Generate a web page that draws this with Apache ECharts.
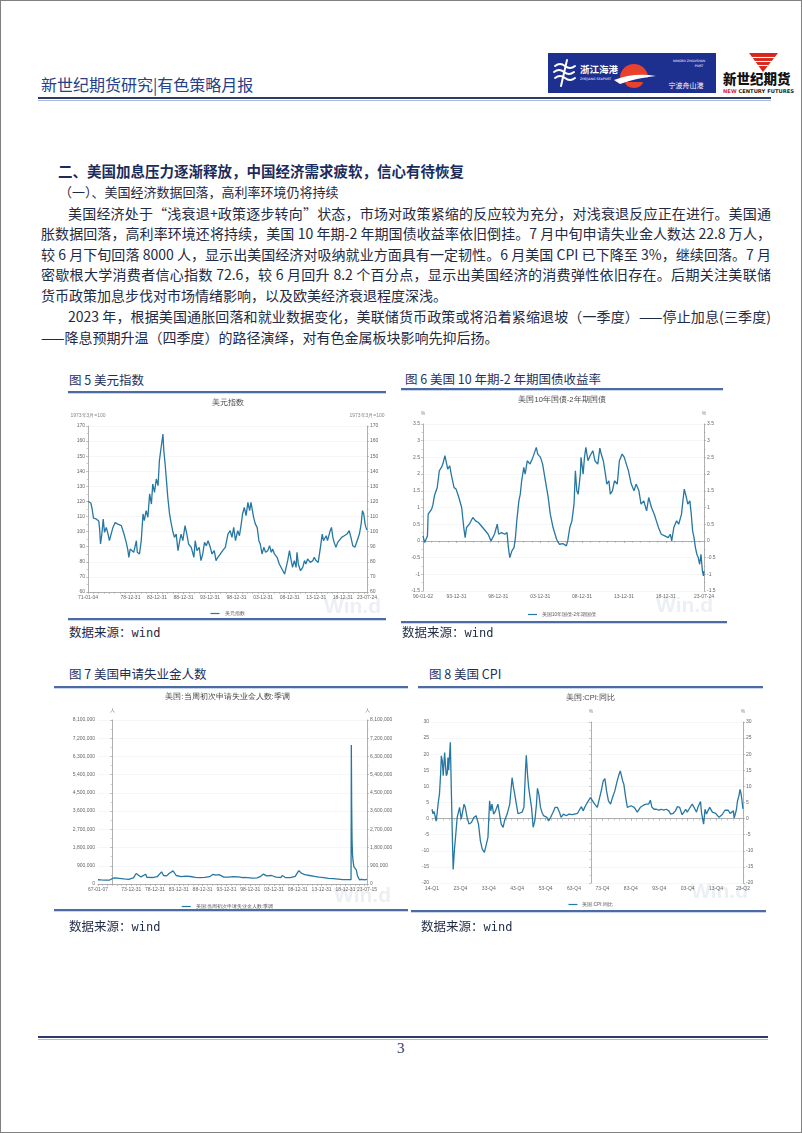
<!DOCTYPE html>
<html>
<head>
<meta charset="utf-8">
<title>新世纪期货研究|有色策略月报</title>
<script src="https://cdn.jsdelivr.net/npm/echarts@6.0.0/dist/echarts.min.js"></script>
<style>
html, body { margin: 0; padding: 0; background: #fff; }
#page { position: relative; width: 802px; height: 1133px; box-sizing: border-box; border: 1px solid #808080;
        overflow: hidden; background: #fff; font-family: "Noto Sans CJK SC", sans-serif; color: #1e2b4d; }
.t { position: absolute; white-space: nowrap; }
.bl { position: absolute; height: 20px; line-height: 20px; font-size: 14px; white-space: nowrap;
      text-align: justify; text-align-last: justify; color: #1f2a44; }
.bl.last { text-align: left; text-align-last: left; }
.rule { position: absolute; height: 1.5px; background: #4d6ba3; box-shadow: 0 1px 0 #c9d5ea; }
.figt { position: absolute; white-space: nowrap; font-size: 12.5px; color: #1f2f5c; }
.src { position: absolute; white-space: nowrap; font-size: 12.5px; color: #1f2a44; }
.src span { font-family: "DejaVu Sans Mono", monospace; font-size: 12px; }
.chart { position: absolute; }
</style>
</head>
<body>
<div id="page">
  <div class="t" style="left:40px;top:71px;font-size:16px;color:#24408a;">新世纪期货研究|有色策略月报</div>
  <svg class="t" style="left:545px;top:50px" width="255" height="46" viewBox="0 0 255 46">
    <rect x="2" y="2" width="168" height="40" fill="#1d2f8f"/>
    <g stroke="#fff" stroke-width="2" fill="none" stroke-linecap="round">
      <path d="M9 15 q5 -4 10 0 t10 0"/>
      <path d="M8 21 q5 -4 10 0 t10 0"/>
      <path d="M9 27 q5 -4 10 0 t10 0"/>
      <path d="M21 9 L15 35"/>
    </g>
    <text x="34" y="22" fill="#fff" font-size="9.5" font-weight="700" font-family="Noto Sans CJK SC">浙江海港</text>
    <text x="34" y="29" fill="#fff" font-size="3.2" font-family="DejaVu Sans">ZHEJIANG SEAPORT</text>
    <path d="M74 27 A14 14 0 0 1 102 27 Z" fill="#e8412c"/>
    <path d="M68 29 Q88 21 110 25 Q90 27 74 33 Z" fill="#fff"/>
    <path d="M79 31 A9 6 0 0 0 97 31 Z" fill="#e8412c"/>
    <text x="143" y="11" fill="#fff" font-size="3.2" text-anchor="middle" font-family="DejaVu Sans">NINGBO ZHOUSHAN</text>
    <text x="153" y="16" fill="#fff" font-size="3.2" text-anchor="middle" font-family="DejaVu Sans">PORT</text>
    <text x="140" y="37" fill="#fff" font-size="7" text-anchor="middle" font-family="Noto Sans CJK SC">宁波舟山港</text>
    <path d="M203 2 L232 2 L217 21 Z" fill="#d9261c"/>
    <g stroke="#fff" stroke-width="1.1">
      <path d="M206 6.5 L229 6.5"/><path d="M209 10.5 L226 10.5"/><path d="M212 14.5 L222 14.5"/>
    </g>
    <text x="177" y="33" font-size="13.5" font-weight="900" fill="#111" font-family="Noto Sans CJK SC">新世纪期货</text>
    <text x="177" y="42" font-size="5.2" font-weight="700" fill="#222" font-family="DejaVu Sans"><tspan fill="#d9261c">NEW</tspan> CENTURY FUTURES</text>
  </svg>
  <div style="position:absolute;left:37px;top:96px;width:733px;height:2px;background:#2d3b68;"></div>
  <div style="position:absolute;left:37px;top:98.5px;width:733px;height:1px;background:#a9badb;"></div>

  <div class="t" style="left:57px;top:159px;font-size:14.5px;font-weight:700;color:#1b2c5c;">二、美国加息压力逐渐释放，中国经济需求疲软，信心有待恢复</div>
  <div class="t" style="left:58px;top:181px;font-size:13px;color:#1f2a44;">（一）、美国经济数据回落，高利率环境仍将持续</div>
  <div class="bl" style="left:67px;top:202px;width:703px;">美国经济处于“浅衰退+政策逐步转向”状态，市场对政策紧缩的反应较为充分，对浅衰退反应正在进行。美国通</div>
  <div class="bl" style="left:40px;top:222px;width:730px;">胀数据回落，高利率环境还将持续，美国 10 年期-2 年期国债收益率依旧倒挂。7 月中旬申请失业金人数达 22.8 万人，</div>
  <div class="bl" style="left:40px;top:243px;width:730px;">较 6 月下旬回落 8000 人，显示出美国经济对吸纳就业方面具有一定韧性。6 月美国 CPI 已下降至 3%，继续回落。7 月</div>
  <div class="bl" style="left:40px;top:263px;width:730px;">密歇根大学消费者信心指数 72.6，较 6 月回升 8.2 个百分点，显示出美国经济的消费弹性依旧存在。后期关注美联储</div>
  <div class="bl last" style="left:40px;top:284px;">货币政策加息步伐对市场情绪影响，以及欧美经济衰退程度深浅。</div>
  <div class="bl" style="left:67px;top:305px;width:703px;">2023 年，根据美国通胀回落和就业数据变化，美联储货币政策或将沿着紧缩退坡（一季度）——停止加息(三季度)</div>
  <div class="bl last" style="left:40px;top:326px;">——降息预期升温（四季度）的路径演绎，对有色金属板块影响先抑后扬。</div>

  <div class="figt" style="left:68px;top:369px;">图 5 美元指数</div>
  <div class="rule" style="left:67px;top:390px;width:318px;"></div>
  <div id="c5" class="chart" style="left:53px;top:393px;width:347px;height:224px;"></div>
  <div class="rule" style="left:67px;top:617px;width:318px;"></div>
  <div class="src" style="left:68px;top:621px;">数据来源：<span>wind</span></div>

  <div class="figt" style="left:404px;top:368px;">图 6 美国 10 年期-2 年期国债收益率</div>
  <div class="rule" style="left:400px;top:387px;width:322px;"></div>
  <div id="c6" class="chart" style="left:400px;top:390px;width:322px;height:231px;"></div>
  <div class="rule" style="left:400px;top:620px;width:326px;"></div>
  <div class="src" style="left:401px;top:621px;">数据来源：<span>wind</span></div>

  <div class="figt" style="left:68px;top:663px;">图 7 美国申请失业金人数</div>
  <div class="rule" style="left:53px;top:685px;width:354px;"></div>
  <div id="c7" class="chart" style="left:53px;top:688px;width:347px;height:221px;"></div>
  <div class="rule" style="left:53px;top:908px;width:354px;"></div>
  <div class="src" style="left:68px;top:915px;">数据来源：<span>wind</span></div>

  <div class="figt" style="left:428px;top:663px;">图 8 美国 CPI</div>
  <div class="rule" style="left:417px;top:685px;width:345px;"></div>
  <div id="c8" class="chart" style="left:417px;top:688px;width:345px;height:222px;"></div>
  <div class="rule" style="left:410px;top:909px;width:355px;"></div>
  <div class="src" style="left:420px;top:915px;">数据来源：<span>wind</span></div>

  <div style="position:absolute;left:37px;top:1035px;width:730px;height:2px;background:#2d3b68;"></div>
  <div style="position:absolute;left:37px;top:1037.5px;width:730px;height:1px;background:#a9badb;"></div>
  <div class="t" style="left:396px;top:1039px;font-size:15px;font-family:'Liberation Serif',serif;color:#2b3a67;">3</div>
</div>

<script>
// 美元指数 (1973年3月=100)
var dxyDates = [
    '1971-01-04','1971-07','1971-10','1972-01','1972-07','1972-11','1973-01','1973-03','1973-05','1973-08',
    '1973-11','1974-02','1974-06','1974-10','1975-01','1975-05','1975-09','1976-02','1976-08','1977-04',
    '1977-10','1978-03','1978-07','1978-09','1978-12','1979-04','1979-08','1980-02','1980-04','1980-09',
    '1981-01','1981-05','1981-08','1981-12','1982-04','1982-08','1982-12','1983-03','1983-07','1983-11',
    '1984-03','1984-06','1984-10','1985-02','1985-04','1985-07','1985-10','1986-01','1986-05','1986-09',
    '1986-12','1987-04','1987-08','1987-12','1988-04','1988-07','1988-11','1989-04','1989-08','1989-12',
    '1990-06','1990-12','1991-03','1991-07','1991-12','1992-04','1992-08','1992-12','1993-04','1993-08',
    '1994-01','1994-05','1994-10','1995-02','1995-06','1995-12','1996-05','1996-11','1997-05','1997-10',
    '1998-02','1998-06','1998-10','1999-03','1999-07','1999-11','2000-02','2000-06','2000-10','2001-02',
    '2001-06','2001-09','2001-12','2002-03','2002-07','2002-11','2003-03','2003-06','2003-10','2004-02',
    '2004-06','2004-11','2005-03','2005-07','2005-10','2006-02','2006-08','2007-01','2007-07','2008-01',
    '2008-04','2008-08','2008-12','2009-04','2009-07','2009-11','2010-03','2010-05','2010-08','2011-01',
    '2011-06','2011-10','2012-01','2012-05','2012-11','2013-05','2013-08','2013-12','2014-05','2014-10',
    '2015-02','2015-05','2015-11','2016-02','2016-08','2016-11','2017-02','2017-05','2017-09','2018-01',
    '2018-05','2018-10','2019-04','2019-10','2020-03','2020-07','2020-11','2021-04','2021-09','2022-02',
    '2022-06','2022-09','2022-12','2023-03','2023-05','2023-07-24'
];
var dxyValues = [
    120.1, 119, 115, 109, 108.4, 109.5, 107, 101.7, 91.8, 98.4,
    108.4, 99.5, 102.8, 98.4, 94, 98.4, 102.8, 106, 105, 104,
    98.4, 93, 87.4, 83, 88.5, 89.6, 86.3, 94, 86.3, 85.2,
    94, 111.7, 107.3, 113.9, 109.5, 125, 118.3, 131.6, 126, 134.9,
    130.5, 147, 155.9, 164.7, 153.7, 144.8, 133.8, 122.7, 111.7, 105,
    100.6, 96.2, 98.4, 87.4, 94, 98.4, 94, 104, 98.4, 91.8,
    89.6, 83, 94, 87.4, 89.6, 80.8, 85.2, 92.9, 90.7, 94,
    89.6, 85.2, 87.4, 80.8, 83, 85.2, 87.4, 89.6, 98.4, 100.6,
    96.2, 102.8, 94, 100.6, 97.3, 105, 111.7, 116.1, 110.6, 119.4,
    113.9, 119.4, 118.3, 109.5, 105, 102.8, 94, 91.8, 85.2, 89.6,
    86.3, 87.4, 90.7, 86.3, 88.5, 85.2, 83, 78.6, 75.2, 71.9,
    71.9, 80.8, 87.4, 80.8, 76.3, 80.8, 76.3, 86.3, 78.6, 74.1,
    76.3, 80.8, 78.6, 81.9, 79.6, 80.8, 83, 80.8, 79.6, 89.6,
    98.4, 94, 97.3, 94, 100.6, 102.8, 96.2, 92.9, 89.6, 92.9,
    94, 96.2, 97.3, 98.4, 100.6, 96.2, 90.7, 89.6, 94, 98.4,
    105, 113.9, 111.7, 105, 102.8, 101
];
var dxyTicks = ['1971-01-04','1978-12-31','1983-12-31','1988-12-31','1993-12-31','1998-12-31',
    '2003-12-31','2008-12-31','2013-12-31','2018-12-31','2023-07-24'];

// 美国10年国债-2年期国债 (%)
var spreadDates = [
    '1990-01-02','1990-03','1990-07','1990-08','1991-01','1991-03','1991-05','1991-09','1991-12','1992-03',
    '1992-05','1992-08','1992-10','1992-12','1993-03','1993-05','1993-09','1993-12','1994-04','1994-08',
    '1994-11','1995-01','1995-03','1995-07','1995-12','1996-04','1996-08','1997-02','1997-10','1998-02',
    '1998-07','1998-11','1999-01','1999-05','1999-10','2000-01','2000-03','2000-05','2000-08','2000-11',
    '2001-01','2001-03','2001-06','2001-08','2001-10','2002-01','2002-03','2002-06','2002-10','2003-02',
    '2003-07','2003-09','2004-01','2004-04','2004-08','2004-12','2005-03','2005-07','2005-12','2006-04',
    '2006-09','2007-02','2007-04','2007-07','2007-10','2008-01','2008-03','2008-05','2008-07','2008-10',
    '2008-11','2009-02','2009-04','2009-06','2009-09','2009-12','2010-04','2010-07','2010-11','2011-02',
    '2011-04','2011-07','2011-10','2011-12','2012-03','2012-05','2012-08','2012-11','2013-03','2013-06',
    '2013-10','2014-01','2014-04','2014-07','2014-11','2015-03','2015-06','2015-10','2016-01','2016-05',
    '2016-09','2016-12','2017-04','2017-08','2017-11','2018-02','2018-06','2018-11','2019-04','2019-07',
    '2019-09','2019-12','2020-04','2020-07','2020-11','2021-01','2021-03','2021-06','2021-08','2021-11',
    '2022-01','2022-03','2022-05','2022-07','2022-09','2022-11','2023-01','2023-03','2023-05','2023-06-30',
    '2023-07-24'
];
var spreadValues = [
    0.15, -0.05, 0.15, 0.8, 0.95, 1.1, 1.35, 1.6, 2.1, 2.2,
    2.3, 2.55, 2.35, 2.15, 2.25, 2.0, 1.6, 1.55, 1.3, 1.0,
    0.4, 0.1, 0.4, 0.5, 0.7, 0.6, 0.55, 0.4, 0.2, 0.0,
    0.2, 0.5, 0.2, 0.25, 0.2, 0.25, -0.2, -0.5, -0.3, -0.2,
    0.1, 0.6, 1.2, 1.4, 1.8, 2.2, 2.0, 2.4, 2.3, 2.5,
    2.8, 2.6, 2.5, 2.3, 1.8, 1.3, 0.8, 0.4, 0.05, -0.1,
    -0.08, -0.15, 0.0, 0.4, 0.6, 1.1, 2.1, 1.5, 1.4, 2.0,
    2.5, 2.0, 2.5, 2.8, 2.4, 2.55, 2.7, 2.4, 2.3, 2.78,
    2.6, 2.4, 2.0, 1.7, 1.8, 1.4, 1.5, 1.8, 1.7, 2.4,
    2.6, 2.5, 2.3, 2.1, 1.7, 1.5, 1.7, 1.5, 1.1, 1.2,
    0.9, 1.3, 1.0, 0.8, 0.6, 0.4, 0.2, 0.15, 0.1, 0.2,
    0.0, 0.4, 0.6, 0.5, 0.8, 1.2, 1.55, 1.3, 1.1, 1.2,
    0.8, 0.3, 0.1, -0.2, -0.4, -0.5, -0.7, -0.4, -0.9, -1.05,
    -0.9
];
var spreadTicks = ['1990-01-02','1993-12-31','1998-12-31','2003-12-31','2008-12-31','2013-12-31',
    '2018-12-31','2023-07-24'];

// 美国:当周初次申请失业金人数:季调 (人)
var claimsDates = [
    '1967-01-07','1967-09','1968-06','1969-06','1970-03','1970-10','1971-06','1972-06','1973-06','1974-06',
    '1975-01','1975-06','1976-01','1976-06','1977-01','1977-04','1978-06','1979-06','1980-05','1980-10',
    '1981-06','1981-12','1982-10','1983-06','1984-06','1985-06','1986-06','1987-06','1988-06','1989-06',
    '1990-06','1991-03','1991-10','1992-06','1993-06','1994-06','1995-06','1996-06','1997-06','1998-06',
    '1999-06','2000-06','2001-03','2001-10','2002-06','2003-06','2004-06','2005-06','2005-09','2006-06',
    '2007-06','2008-06','2009-03','2009-10','2010-06','2011-06','2012-06','2013-06','2014-06','2015-06',
    '2016-06','2017-06','2018-06','2019-06','2020-03-07','2020-03-21','2020-03-28','2020-04-04','2020-04-25','2020-05-23',
    '2020-06-27','2020-08-15','2020-10-17','2021-01-09','2021-04','2021-07','2021-12','2022-06','2023-01','2023-07-15'
];
var claimsValues = [
    210000, 200000, 190000, 195000, 290000, 300000, 280000, 250000, 230000, 300000,
    520000, 450000, 350000, 380000, 480000, 330000, 320000, 360000, 600000, 420000,
    400000, 520000, 650000, 420000, 360000, 390000, 370000, 330000, 310000, 330000,
    360000, 480000, 440000, 460000, 340000, 340000, 360000, 350000, 320000, 310000,
    290000, 300000, 380000, 490000, 400000, 420000, 340000, 320000, 420000, 310000,
    310000, 380000, 660000, 530000, 460000, 420000, 380000, 340000, 310000, 275000,
    265000, 245000, 220000, 215000, 215000, 3300000, 6860000, 6200000, 3850000, 2200000,
    1450000, 1100000, 850000, 900000, 700000, 400000, 210000, 230000, 200000, 230000
];
var claimsTicks = ['1967-01-07','1973-12-31','1978-12-31','1983-12-31','1988-12-31','1993-12-31',
    '1998-12-31','2003-12-31','2008-12-31','2013-12-31','2018-12-31','2023-07-15'];

// 美国:CPI:同比 (%)
var cpiDates = [
    '1914-01-01','1914-05','1914-09','1915-01','1915-06','1915-10','1916-03','1916-08','1917-01','1917-04',
    '1917-08','1917-12','1918-03','1918-06','1918-10','1919-01','1919-05','1919-08','1919-11','1920-03',
    '1920-06','1920-10','1921-03','1921-06','1921-12','1922-04','1922-11','1923-09','1924-04','1925-04',
    '1925-09','1926-05','1927-01','1927-11','1928-10','1929-07','1930-05','1931-01','1931-09','1932-06',
    '1933-01','1933-09','1934-04','1934-09','1935-02','1935-09','1936-05','1937-03','1937-10','1938-05',
    '1939-01','1939-07','1940-06','1941-05','1942-03','1942-09','1943-02','1943-09','1944-04','1944-11',
    '1945-09','1946-05','1946-12','1947-03','1947-08','1948-01','1948-05','1949-01','1949-08','1950-03',
    '1950-10','1951-02','1951-08','1952-03','1952-09','1953-04','1953-11','1954-06','1955-01','1955-10',
    '1956-08','1957-05','1958-02','1958-11','1959-06','1960-04','1961-04','1962-03','1963-04','1964-03',
    '1965-03','1966-01','1966-08','1967-03','1968-01','1969-01','1969-10','1970-06','1971-04','1972-03',
    '1972-11','1973-09','1974-04','1974-11','1975-06','1976-02','1976-11','1977-07','1978-05','1979-03',
    '1979-11','1980-04','1981-02','1981-07','1982-03','1982-10','1983-05','1984-01','1984-07','1985-03',
    '1985-09','1986-04','1986-10','1987-05','1988-01','1988-07','1989-05','1990-04','1990-11','1991-06',
    '1992-03','1993-01','1993-10','1994-10','1995-07','1996-06','1997-05','1998-01','1998-11','1999-09',
    '2000-05','2001-03','2002-01','2002-09','2003-04','2003-11','2004-06','2005-02','2005-08','2006-02',
    '2006-08','2007-02','2007-08','2008-01','2008-07','2008-11','2009-04','2009-08','2010-02','2010-08',
    '2011-02','2011-10','2012-02','2012-09','2013-04','2013-11','2014-06','2015-01','2015-07','2016-02',
    '2016-08','2017-02','2017-09','2018-04','2018-12','2019-07','2020-02','2020-05','2020-10','2021-03',
    '2021-07','2022-01','2022-06','2022-09','2023-01','2023-03','2023-06-30'
];
var cpiValues = [
    2.9, 1.5, 2.2, 1.0, -0.8, 1.5, 5.0, 7.5, 14, 19.5,
    18, 13.3, 17, 20.5, 16, 13.3, 14, 19, 15, 20,
    23.7, 9.6, -6.9, -15.8, -9, -5.8, 0.4, 3.5, -0.2, 4.5,
    3.5, 0.4, -1.7, -1.2, 0.4, 0.9, -1.7, -6.9, -9.5, -10.5,
    -10, -5.8, 5.5, 2.4, 4.5, 1.4, 2.4, 4.5, 1.4, -1.7,
    -2.7, -0.7, 1.4, 4.5, 12.7, 9.6, 7.6, 4.5, 1.5, 2,
    2, 3.5, 15.8, 19.7, 13.8, 9.6, 10.2, 3.5, -2.7, -0.7,
    4.5, 9.4, 7.6, 3.5, 2, 0.9, 0.9, 0.4, -0.7, 0.4,
    2, 3.5, 3.5, 2, 0.4, 1.4, 0.9, 1.4, 1.2, 1.4,
    1.6, 2.9, 3.7, 2.4, 4, 5.5, 6.5, 6.2, 4.5, 3.5,
    4, 9.1, 11.7, 12.4, 8.6, 5.5, 4.5, 6.5, 8.6, 11.7,
    13.8, 14.8, 11.7, 10.7, 6.5, 3.5, 2.9, 4, 4, 3.5,
    3.5, 2, 1.4, 3.5, 4, 4.2, 4.5, 4.5, 5.7, 3.5,
    2.9, 2.9, 2.6, 2.9, 2.6, 2.9, 2.4, 1.4, 1.6, 2.4,
    3.7, 3.5, 1.2, 2, 2.9, 2, 2.9, 3.5, 4.5, 3.7,
    3.5, 2, 3.5, 4, 5.3, 2, -0.2, -1.7, 2.9, 1.4,
    2.4, 3.5, 2.9, 2, 1.4, 1.6, 2, 0.4, 0.2, 1.2,
    0.9, 2.6, 2, 2.6, 1.6, 1.4, 2.4, 0.2, 1.4, 2.9,
    5.4, 7, 9.1, 8.2, 6.4, 5, 3
];
var cpiTicks = ['1914-01-01','1923-12-31','1933-12-31','1943-12-31','1953-12-31','1963-12-31',
    '1973-12-31','1983-12-31','1993-12-31','2003-12-31','2013-12-31','2023-06-30'];

var LINE_COLOR = '#2777a3';
var AXIS_COLOR = '#9c9c9c';
var LABEL_COLOR = '#666';

function toTime(s) {
    var p = s.split('-');
    return new Date(+p[0], +p[1] - 1, p[2] ? +p[2] : 15).getTime();
}
function pad(n) { return (n < 10 ? '0' : '') + n; }
function fmtDay(v) {
    var d = new Date(v);
    return pad(d.getFullYear() % 100) + '-' + pad(d.getMonth() + 1) + '-' + pad(d.getDate());
}
function fmtQuarter(v) {
    var d = new Date(v);
    return pad(d.getFullYear() % 100) + '-Q' + (Math.floor(d.getMonth() / 3) + 1);
}
// small ticks along the date axis, plus the labelled ones
function tickList(labels, from, to, step) {
    var out = labels.map(toTime);
    for (var y = from; y <= to; y += step) {
        out.push(new Date(y, 11, 31).getTime());
    }
    return out.sort(function(a, b) { return a - b; });
}

function yAxisCfg(o, side) {
    return {
        type: 'value', position: side,
        min: o.yMin, max: o.yMax, interval: o.yStep,
        name: o.unit, nameLocation: 'end', nameGap: o.unitGap,
        nameTextStyle: {fontSize: 5, color: '#888', align: 'center'},
        axisLine: {show: true, lineStyle: {color: AXIS_COLOR, width: 0.8}},
        axisTick: {show: true, length: 2, lineStyle: {color: AXIS_COLOR, width: 0.6}},
        minorTick: {show: true, splitNumber: 2, length: 1.5, lineStyle: {color: AXIS_COLOR, width: 0.5}},
        axisLabel: {fontSize: 5, color: LABEL_COLOR, margin: 3, formatter: o.yFmt},
        splitLine: {show: side === 'left', lineStyle: {color: '#eef0f4', width: 0.6}}
    };
}

function drawChart(o) {
    var chart = echarts.init(document.getElementById(o.id));
    var labelTicks = o.ticks.map(toTime);
    var data = o.dates.map(function(d, i) { return [toTime(d), o.values[i]]; });
    chart.setOption({
        animation: false,
        title: {
            text: o.title, left: 'center', top: o.titleTop, padding: 0,
            textStyle: {fontSize: 7.5, fontWeight: 'normal', color: '#444'}
        },
        grid: {left: o.grid[0], right: o.grid[1], top: o.grid[2], bottom: o.grid[3],
               containLabel: false, outerBoundsMode: 'none'},
        legend: {
            data: [o.title], left: 'center', top: o.legendTop, padding: 0,
            icon: 'rect', itemWidth: 9, itemHeight: 1.2, itemGap: 3,
            textStyle: {fontSize: 4.5, color: '#555'}
        },
        xAxis: {
            type: 'value', scale: true,
            min: labelTicks[0], max: labelTicks[labelTicks.length - 1],
            axisLine: {lineStyle: {color: AXIS_COLOR, width: 0.8}},
            axisTick: {show: true, customValues: o.minor, length: 2,
                       lineStyle: {color: AXIS_COLOR, width: 0.5}},
            axisLabel: {customValues: labelTicks, formatter: o.xFmt, fontSize: 5,
                        color: LABEL_COLOR, margin: 3, hideOverlap: false},
            splitLine: {show: false}
        },
        yAxis: [yAxisCfg(o, 'left'), yAxisCfg(o, 'right')],
        graphic: [{
            type: 'text', left: o.wm[0], top: o.wm[1], z: -10, silent: true,
            style: {text: 'Win.d', fontSize: 21, fontFamily: 'Arial', fontWeight: 'bold', fill: '#eceff3'}
        }],
        series: [{
            name: o.title, type: 'line', data: data, yAxisIndex: 0,
            symbol: 'none', silent: true,
            lineStyle: {color: LINE_COLOR, width: 1.3},
            itemStyle: {color: LINE_COLOR}
        }]
    });
}

drawChart({
    id: 'c5', title: '美元指数', unit: '1973年3月=100', unitGap: 8,
    dates: dxyDates, values: dxyValues, ticks: dxyTicks,
    minor: tickList(dxyTicks, 1971, 2022, 1), xFmt: fmtDay,
    yMin: 60, yMax: 170, yStep: 10,
    grid: [34, 34, 32, 26], titleTop: 5, legendTop: 217, wm: [270, 203]
});
drawChart({
    id: 'c6', title: '美国10年国债-2年期国债', unit: '%', unitGap: 8,
    dates: spreadDates, values: spreadValues, ticks: spreadTicks,
    minor: tickList(spreadTicks, 1990, 2022, 1), xFmt: fmtDay,
    yMin: -1.5, yMax: 3.5, yStep: 0.5,
    grid: [22, 19, 33, 31], titleTop: 5, legendTop: 221, wm: [255, 205]
});
drawChart({
    id: 'c7', title: '美国:当周初次申请失业金人数:季调', unit: '人', unitGap: 7,
    dates: claimsDates, values: claimsValues, ticks: claimsTicks,
    minor: tickList(claimsTicks, 1967, 2022, 1), xFmt: fmtDay,
    yMin: 0, yMax: 8100000, yStep: 900000,
    yFmt: function(v) { return v.toLocaleString('en-US'); },
    grid: [44, 34, 31, 26], titleTop: 4, legendTop: 215, wm: [280, 197]
});
drawChart({
    id: 'c8', title: '美国:CPI:同比', unit: '%', unitGap: 8,
    dates: cpiDates, values: cpiValues, ticks: cpiTicks,
    minor: tickList(cpiTicks, 1915, 2021, 2), xFmt: fmtQuarter,
    yMin: -20, yMax: 30, yStep: 5,
    grid: [14, 20, 33, 28], titleTop: 5, legendTop: 213, wm: [273, 193]
});
</script>
</body>
</html>
